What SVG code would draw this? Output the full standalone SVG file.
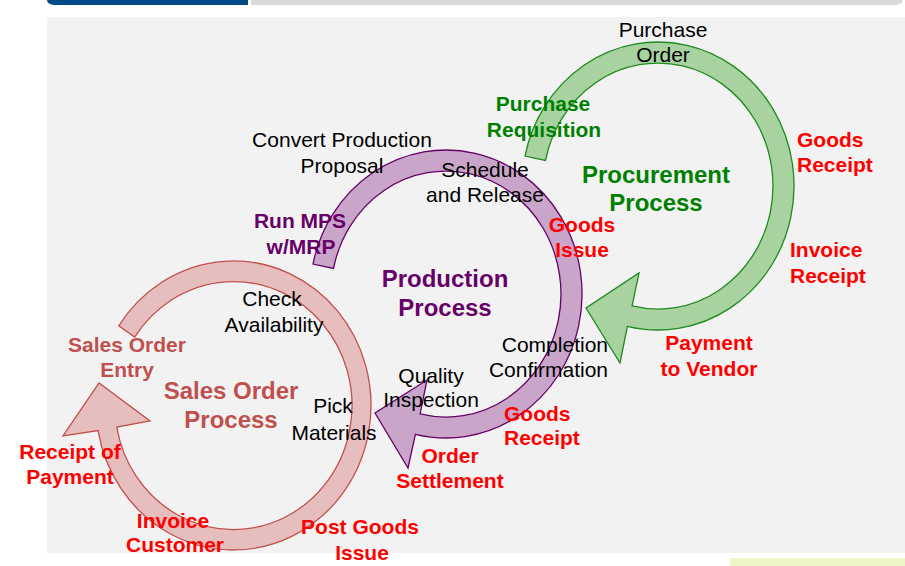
<svg xmlns="http://www.w3.org/2000/svg" width="905" height="566" viewBox="0 0 905 566">
<style>
text{font-family:"Liberation Sans",Arial,sans-serif;}
.n{font-size:21px;fill:#000;}
.b{font-size:21px;font-weight:bold;}
.t{font-size:24px;font-weight:bold;}
.red{fill:#ff0000;}
.grn{fill:#008000;}
.pur{fill:#660066;}
.so{fill:#c0504d;}
.m{text-anchor:middle;}
.e{text-anchor:end;}
.arr{stroke-width:1.3;stroke-linejoin:miter;}
</style>
<rect x="0" y="0" width="905" height="566" fill="#ffffff"/>
<rect x="47" y="17" width="858" height="536" fill="#f2f2f2"/>
<path d="M47,0 H248 V5 H54 A7 5 0 0 1 47,0 Z" fill="#004a87"/>
<path d="M251,0 H903 A7 5 0 0 1 896,5 H251 Z" fill="#d9d9d9"/>
<rect x="730" y="558" width="175" height="8" fill="#edf7c4"/>

<g id="connectors">
<path id="procurement-arrow" class="arr" fill="#a8d3a0" stroke="#1f8a1f" d="M525.0,156.1 A136 144 0 1 1 627.4,326.3 L620,363 L586,308 L639,273 L632.1,305.9 A115 123 0 1 0 545.5,160.4 Z"/>
<path id="production-arrow" class="arr" fill="#c9a6c9" stroke="#660066" d="M313.0,264.1 A136 144 0 1 1 415.4,434.3 L408,468 L375,413 L427,380 L420.1,413.9 A115 123 0 1 0 333.5,268.4 Z"/>
<path id="sales-arrow" class="arr" fill="#e6bebe" stroke="#c0504d" d="M118.8,325.8 A137.5 144.5 0 1 1 98.1,430.6 L63,436 L99,383 L150,421 L116.8,427.0 A118.5 124 0 1 0 134.7,337.1 Z"/>
</g>

<g id="procurement-process"><text class="t grn m" x="656" y="183">Procurement</text><text class="t grn m" x="656" y="211">Process</text></g>
<g id="production-process"><text class="t pur m" x="445" y="287">Production</text><text class="t pur m" x="445" y="316">Process</text></g>
<g id="sales-order-process"><text class="t so m" x="231" y="399">Sales Order</text><text class="t so m" x="231" y="428">Process</text></g>

<g id="purchase-order"><text class="n m" x="663" y="37">Purchase</text><text class="n m" x="663" y="62">Order</text></g>
<g id="purchase-requisition"><text class="b grn m" x="543" y="111">Purchase</text><text class="b grn m" x="544" y="137">Requisition</text></g>
<g id="goods-receipt-proc"><text class="b red" x="797" y="147">Goods</text><text class="b red" x="797" y="172">Receipt</text></g>
<g id="invoice-receipt"><text class="b red" x="790" y="257">Invoice</text><text class="b red" x="790" y="283">Receipt</text></g>
<g id="payment-to-vendor"><text class="b red m" x="709" y="350">Payment</text><text class="b red m" x="709" y="376">to Vendor</text></g>

<g id="convert-production-proposal"><text class="n m" x="342" y="147">Convert Production</text><text class="n m" x="342" y="173">Proposal</text></g>
<g id="schedule-and-release"><text class="n m" x="485" y="177">Schedule</text><text class="n m" x="485" y="202">and Release</text></g>
<g id="goods-issue"><text class="b red m" x="582" y="232">Goods</text><text class="b red m" x="582" y="257">Issue</text></g>
<g id="run-mps"><text class="b pur m" x="300" y="228">Run MPS</text><text class="b pur m" x="301" y="254">w/MRP</text></g>
<g id="completion-confirmation"><text class="n e" x="608" y="352">Completion</text><text class="n e" x="608" y="377">Confirmation</text></g>
<g id="quality-inspection"><text class="n m" x="431" y="383">Quality</text><text class="n m" x="431" y="407">Inspection</text></g>
<g id="goods-receipt-prod"><text class="b red" x="504" y="421">Goods</text><text class="b red" x="504" y="445">Receipt</text></g>
<g id="order-settlement"><text class="b red m" x="450" y="463">Order</text><text class="b red m" x="450" y="488">Settlement</text></g>

<g id="check-availability"><text class="n m" x="272" y="306">Check</text><text class="n m" x="274" y="332">Availability</text></g>
<g id="pick-materials"><text class="n m" x="333" y="413">Pick</text><text class="n m" x="334" y="440">Materials</text></g>
<g id="sales-order-entry"><text class="b so m" x="127" y="352">Sales Order</text><text class="b so m" x="127" y="377">Entry</text></g>
<g id="receipt-of-payment"><text class="b red m" x="70" y="459">Receipt of</text><text class="b red m" x="70" y="484">Payment</text></g>
<g id="invoice-customer"><text class="b red m" x="173" y="528">Invoice</text><text class="b red m" x="175" y="552">Customer</text></g>
<g id="post-goods-issue"><text class="b red m" x="360" y="534">Post Goods</text><text class="b red m" x="362" y="560">Issue</text></g>
</svg>
